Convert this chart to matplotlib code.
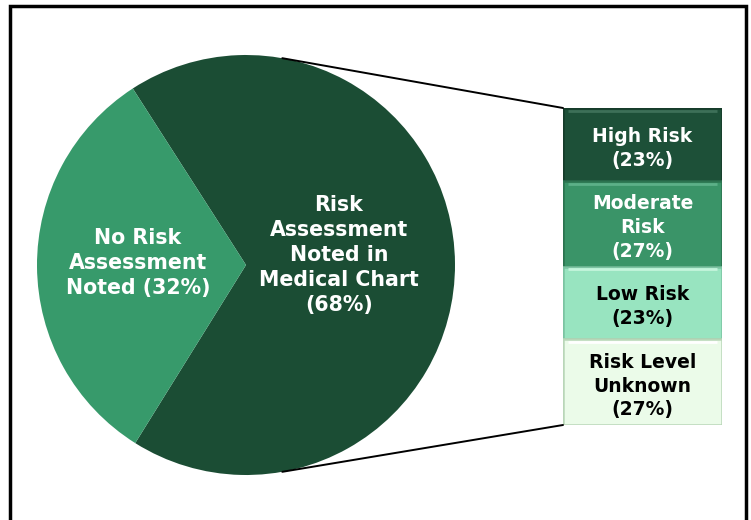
import matplotlib.pyplot as plt
import numpy as np
from matplotlib.patches import ConnectionPatch, Rectangle

# Dados do gráfico
pie_labels = ['Risk\nAssessment\nNoted in\nMedical Chart\n(68%)', 'No Risk\nAssessment\nNoted (32%)']
pie_values = [68, 32]
pie_colors = ['#1b4d34', '#379a6b']

bar_labels = ['High Risk\n(23%)', 'Moderate\nRisk\n(27%)', 'Low Risk\n(23%)', 'Risk Level\nUnknown\n(27%)']
bar_values = [23, 27, 23, 27]
bar_colors = ['#1d5038', '#3a9468', '#98e4c0', '#ebfbe9']
bar_edges = ['#163c2a', '#2c7350', '#7cc3a2', '#b9d6b8']
bar_highlights = ['#3d7058', '#5cb088', '#c4f4dc', '#ffffff']
bar_text_colors = ['white', 'white', 'black', 'black']

W, H = 751, 520


def caixa(x0, y0, x1, y1):
    # converte um retângulo em pixels (origem no topo) para coordenadas da figura
    return [x0 / W, 1 - y1 / H, (x1 - x0) / W, (y1 - y0) / H]


fig = plt.figure(figsize=(W / 100, H / 100), dpi=100)
plt.rcParams['font.family'] = ['DejaVu Sans']

# Pizza principal
ax_pie = fig.add_axes(caixa(37, 55, 455, 475))
wedges, _ = ax_pie.pie(pie_values, colors=pie_colors, startangle=-122, counterclock=True,
                       radius=1, wedgeprops={'linewidth': 0})
ax_pie.set_aspect('auto')
ax_pie.set_xlim(-1, 1)
ax_pie.set_ylim(-1, 1)
ax_pie.axis('off')

ax_pie.text(0.445, 0.048, pie_labels[0], ha='center', va='center', color='white',
            fontsize=14.8, fontweight='bold', linespacing=1.32)
ax_pie.text(-0.517, 0.01, pie_labels[1], ha='center', va='center', color='white',
            fontsize=14.8, fontweight='bold', linespacing=1.32)

# Barra empilhada com o detalhamento do risco
ax_bar = fig.add_axes(caixa(563, 108, 722, 425))
bottom = 0
for valor, cor, borda, brilho, rotulo, cor_txt in zip(bar_values, bar_colors, bar_edges,
                                                      bar_highlights, bar_labels, bar_text_colors):
    ax_bar.bar(0, valor, bottom=bottom, width=1, color=cor, edgecolor=borda, linewidth=1.8)
    # faixa clara no topo de cada segmento (efeito de relevo)
    ax_bar.plot([-0.47, 0.47], [bottom + 0.9, bottom + 0.9], color=brilho, linewidth=2,
                solid_capstyle='butt')
    ax_bar.text(0, bottom + valor / 2 + 1.2, rotulo, ha='center', va='center', color=cor_txt,
                fontsize=13.5, fontweight='bold', linespacing=1.33)
    bottom += valor
ax_bar.set_xlim(-0.5, 0.5)
ax_bar.set_ylim(sum(bar_values), 0)
ax_bar.axis('off')

# Linhas ligando a pizza à barra
theta = np.deg2rad(80)
for sinal, y_barra in [(1, 0), (-1, sum(bar_values))]:
    con = ConnectionPatch(xyA=(np.cos(theta), sinal * np.sin(theta)), coordsA=ax_pie.transData,
                          xyB=(-0.5, y_barra), coordsB=ax_bar.transData,
                          color='black', linewidth=1.4)
    fig.add_artist(con)

# Moldura
fig.patches.append(Rectangle((10 / W, -0.1), (746 - 10) / W, 1.1 - 6 / H,
                             transform=fig.transFigure, fill=False, edgecolor='black',
                             linewidth=2.5))

fig.savefig('out.png', dpi=100)
